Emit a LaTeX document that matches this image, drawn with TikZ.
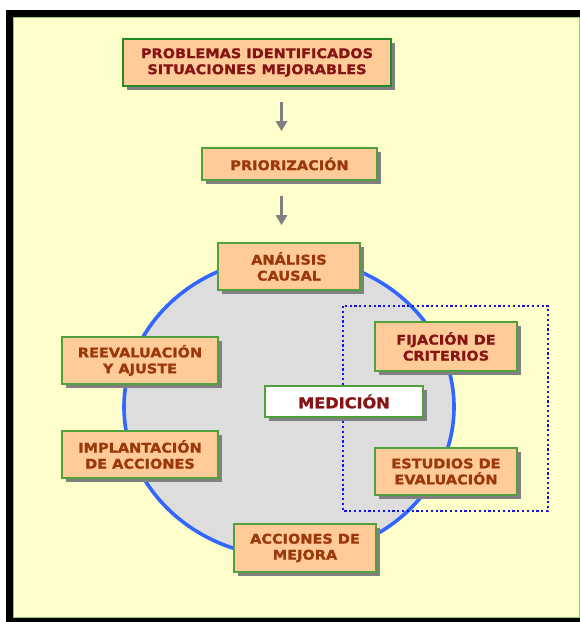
\documentclass[tikz,border=0pt]{standalone}
\usepackage{fontspec}
\newfontfamily\boxfont[FakeStretch=1.09,FakeBold=1.3]{DejaVu Sans Bold}
\usetikzlibrary{shadows,arrows.meta}
\definecolor{bgyellow}{RGB}{255,255,204}
\definecolor{peach}{RGB}{255,204,153}
\definecolor{boxgreen}{RGB}{80,160,60}
\definecolor{darkboxgreen}{RGB}{34,139,34}
\definecolor{framegreen}{RGB}{150,200,120}
\definecolor{txtred}{RGB}{135,20,20}
\definecolor{txtbrown}{RGB}{155,55,10}
\definecolor{ringblue}{RGB}{51,102,255}
\definecolor{shadowgray}{RGB}{128,128,128}
\definecolor{fillgray}{RGB}{221,221,221}
\definecolor{dotblue}{RGB}{20,20,230}
\begin{document}
\begin{tikzpicture}[x=1pt,y=-1pt,
  box/.style={draw=boxgreen, line width=1.6pt, fill=peach, align=center,
    font=\fontsize{13.3}{16}\selectfont\boxfont, text=txtbrown, inner sep=0pt,
    drop shadow={shadow xshift=4pt, shadow yshift=-4pt, fill=shadowgray, opacity=1}},
  arr/.style={draw=shadowgray, line width=3.6pt, -{Triangle[length=10pt,width=11pt]}}]
\useasboundingbox (0,0) rectangle (580,622);
% frame
\fill[black] (6,10) rectangle (580,622);
\filldraw[fill=bgyellow, draw=framegreen, line width=0.8pt] (13,17) rectangle (579,617);
% ring
\filldraw[fill=fillgray, draw=ringblue, line width=3.6pt] (289,407) ellipse [x radius=165, y radius=150];
% dotted frame
\draw[dotblue, line width=2.2pt, dash pattern=on 2.2pt off 2.6pt] (343,306) rectangle (548,511);
% nodes
\node[box, draw=darkboxgreen, line width=2.4pt, text=txtred, minimum width=268pt, minimum height=47pt] (prob) at (257,62.5) {PROBLEMAS IDENTIFICADOS\\SITUACIONES MEJORABLES};
\node[box, minimum width=175pt, minimum height=32pt] (prio) at (289.5,164) {PRIORIZACIÓN};
\node[box, minimum width=142pt, minimum height=47pt] (anal) at (289,266.5) {ANÁLISIS\\CAUSAL};
\node[box, minimum width=156pt, minimum height=47pt] (reev) at (140,360.5) {REEVALUACIÓN\\Y AJUSTE};
\node[box, minimum width=156pt, minimum height=47pt] (impl) at (140,454.5) {IMPLANTACIÓN\\DE ACCIONES};
\node[box, fill=white, text=txtred, font=\fontsize{14.8}{16}\selectfont\boxfont, minimum width=158pt, minimum height=31pt] (med) at (344,401.5) {MEDICIÓN};
\node[box, text=txtred, minimum width=142pt, minimum height=49pt] (fij) at (446,346.5) {FIJACIÓN DE\\CRITERIOS};
\node[box, minimum width=142pt, minimum height=47pt] (est) at (446,471.5) {ESTUDIOS DE\\EVALUACIÓN};
\node[box, minimum width=142pt, minimum height=48pt] (acc) at (305,548) {ACCIONES DE\\MEJORA};
% arrows
\coordinate (ax) at (281.5,0);
\draw[arr, shorten <=15pt, shorten >=16pt] (prob.south -| ax) -- (prio.north -| ax);
\draw[arr, shorten <=15pt, shorten >=17pt] (prio.south -| ax) -- (anal.north -| ax);
\end{tikzpicture}
\end{document}
